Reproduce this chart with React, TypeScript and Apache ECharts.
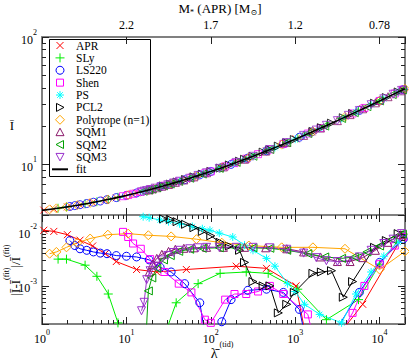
import React, { useEffect, useRef } from "react";
import * as echarts from "echarts";

const FONT = "'Liberation Serif', 'DejaVu Serif', serif";

// ---------------- data ----------------
const aprLambda = [1.05, 1.38, 2.0, 2.82, 3.98, 5.62, 7.59, 13.2, 22.9, 51.3, 200, 457, 1023, 1585, 6310, 18620];
const aprI = [4.37, 4.47, 4.63, 4.81, 5.02, 5.24, 5.46, 5.96, 6.55, 7.64, 10.33, 12.75, 15.86, 17.99, 27.3, 38.3];
const aprErr = [0.0105, 0.01, 0.0087, 0.0069, 0.0054, 0.0039, 0.0028, 0.002, 0.0018, 0.002, 0.0023, 0.0021, 0.001, 0.00003, 0.00046, 0.0079];

const slyLambda = [1.55, 1.95, 3.24, 4.47, 6.1, 7.94, 15.8, 38.9, 70.8, 129, 263, 479, 1072, 2344, 5623, 10000, 19050];
const slyI = [4.52, 4.63, 4.89, 5.09, 5.3, 5.51, 6.14, 7.24, 8.18, 9.34, 11.08, 12.92, 16.09, 20.24, 26.28, 31.46, 38.63];
const slyErr = [0.0031, 0.0031, 0.0024, 0.0015, 0.00071, 0.00021, 0.00001, 0.00049, 0.0011, 0.0017, 0.0018, 0.0017, 0.00087, 0.00024, 0.00056, 0.0025, 0.0089];

const ls220Lambda = [2.14, 2.45, 2.82, 3.39, 4.07, 4.9, 5.89, 7.59, 10, 13.2, 18.6, 25.1, 33.9, 49, 74.1, 100, 135, 174, 275, 457, 724, 1122, 1585, 5754, 10000, 19050];
const ls220I = [4.67, 4.74, 4.82, 4.92, 5.04, 5.15, 5.28, 5.48, 5.7, 5.96, 6.31, 6.66, 7.04, 7.57, 8.26, 8.79, 9.44, 9.99, 11.2, 12.77, 14.46, 16.32, 18.01, 26.49, 31.46, 38.63];
const ls220Err = [0.0068, 0.0055, 0.0048, 0.0045, 0.0042, 0.004, 0.0039, 0.0036, 0.0035, 0.0034, 0.003, 0.0022, 0.0018, 0.0011, 0.00049, 0.00003, 0.00022, 0.00056, 0.00083, 0.00087, 0.00076, 0.00037, 0.00003, 0.00076, 0.0027, 0.0072];

const shenLambda = [9.12, 10.5, 12.0, 14.8, 19.1, 28.2, 41.7, 58.9, 85.1, 100, 148, 191, 263, 363, 501, 724, 1413, 1995, 4786, 6607, 10000, 15140, 19050];
const shenI = [5.62, 5.74, 5.87, 6.07, 6.33, 6.8, 7.34, 7.85, 8.5, 8.79, 9.64, 10.22, 11.08, 12.02, 13.07, 14.46, 17.45, 19.27, 25.09, 27.73, 31.46, 36.01, 38.63];
const shenErr = [0.0098, 0.0079, 0.006, 0.0048, 0.0031, 0.0018, 0.0011, 0.00076, 0.00024, 0.00021, 0.00056, 0.00071, 0.00071, 0.00079, 0.001, 0.00071, 0.0003, 0.00003, 0.00032, 0.001, 0.0025, 0.0055, 0.0079];

const psLambda = [15.8, 18.6, 25.1, 31.6, 42.7, 60.3, 79.4, 97.7, 126, 182, 251, 316, 457, 575, 813, 1000, 1288, 1950, 3548, 5248, 7943, 11220, 16600];
const psI = [6.14, 6.3, 6.66, 6.94, 7.37, 7.89, 8.38, 8.75, 9.29, 10.1, 10.96, 11.57, 12.77, 13.54, 14.92, 15.75, 16.99, 19.13, 22.89, 25.77, 29.39, 32.72, 37.02];
const psErr = [0.0186, 0.0178, 0.0162, 0.0151, 0.0138, 0.0123, 0.0112, 0.0105, 0.0093, 0.0079, 0.0056, 0.0045, 0.0032, 0.0023, 0.0011, 0.00079, 0.00046, 0.0003, 0.00021, 0.00071, 0.0018, 0.0035, 0.0063];

const pcl2Lambda = [27.5, 33.1, 39.8, 50.1, 63.1, 79.4, 100, 129, 166, 219, 251, 316, 417, 501, 631, 794, 977, 1622, 2042, 2692, 3715, 4786, 8710, 12020, 16600];
const pcl2I = [6.77, 7.0, 7.27, 7.6, 7.97, 8.38, 8.79, 9.34, 9.89, 10.59, 10.96, 11.57, 12.47, 13.07, 13.91, 14.83, 15.66, 18.13, 19.41, 21.07, 23.23, 25.09, 30.22, 33.48, 37.02];
const pcl2Err = [0.017, 0.0166, 0.0151, 0.0135, 0.0117, 0.01, 0.0083, 0.0063, 0.0054, 0.0045, 0.0027, 0.0012, 0.001, 0.001, 0.00032, 0.00046, 0.00076, 0.0017, 0.0018, 0.0019, 0.00062, 0.0012, 0.0051, 0.0068, 0.0091];

const polyLambda = [1.23, 1.48, 1.95, 2.63, 3.72, 6.03, 10.5, 18.2, 33.9, 67.6, 135, 282, 692, 1622, 3890, 10000, 19950];
const polyI = [4.43, 4.51, 4.63, 4.78, 4.98, 5.29, 5.74, 6.28, 7.04, 8.1, 9.44, 11.26, 14.28, 18.13, 23.57, 31.46, 39.2];
const polyErr = [0.0039, 0.0042, 0.0051, 0.0062, 0.0074, 0.0087, 0.0091, 0.0085, 0.0081, 0.0072, 0.0062, 0.0055, 0.0051, 0.0051, 0.0048, 0.002, 0.0043];

const sqm1Lambda = [18.6, 20.4, 22.9, 26.3, 31.6, 38, 47.9, 63.1, 89.1, 141, 251, 447, 794, 1259, 1995, 3162, 4467, 6310, 8913, 12590, 17780];
const sqm1I = [6.3, 6.42, 6.55, 6.72, 6.94, 7.21, 7.54, 7.97, 8.59, 9.54, 10.96, 12.7, 14.83, 16.88, 19.27, 22.04, 24.58, 27.3, 30.42, 33.98, 37.78];
const sqm1Err = [0.0018, 0.0025, 0.0032, 0.0038, 0.0043, 0.0047, 0.0049, 0.005, 0.0051, 0.0051, 0.0051, 0.005, 0.0048, 0.0042, 0.0034, 0.0028, 0.0028, 0.0033, 0.0045, 0.0063, 0.0087];

const sqm2Lambda = [15.8, 18.2, 20, 22.9, 27.5, 33.1, 41.7, 56.2, 79.4, 126, 200, 316, 501, 794, 1413, 2239, 3548, 5012, 7079, 10000, 14130, 18620];
const sqm2I = [6.14, 6.28, 6.39, 6.55, 6.77, 7.0, 7.34, 7.77, 8.38, 9.29, 10.35, 11.57, 13.07, 14.83, 17.45, 19.96, 22.89, 25.43, 28.35, 31.46, 35.25, 38.35];
const sqm2Err = [0.00001, 0.00081, 0.0014, 0.0021, 0.003, 0.0036, 0.0043, 0.0047, 0.0049, 0.005, 0.005, 0.005, 0.0049, 0.0045, 0.0039, 0.0034, 0.0032, 0.0034, 0.0042, 0.0054, 0.0071, 0.0089];

const sqm3Lambda = [15.1, 16.2, 17.4, 19.1, 21.9, 25.7, 30.9, 36.3, 42.7, 56.2, 70.8, 89.1, 126, 200, 316, 501, 794, 1259, 1778, 2344, 3162, 4266, 5754, 7943, 11220, 14450, 18200];
const sqm3I = [6.09, 6.16, 6.23, 6.33, 6.5, 6.69, 6.91, 7.14, 7.37, 7.77, 8.18, 8.59, 9.29, 10.35, 11.57, 13.07, 14.83, 16.88, 18.58, 20.24, 22.04, 24.24, 26.49, 29.39, 32.72, 35.5, 38.06];
const sqm3Err = [0.00035, 0.0005, 0.0013, 0.0019, 0.0023, 0.003, 0.0036, 0.0041, 0.0045, 0.0048, 0.005, 0.0051, 0.0051, 0.0051, 0.0051, 0.005, 0.0047, 0.004, 0.0033, 0.0029, 0.0028, 0.0029, 0.0034, 0.0045, 0.006, 0.0072, 0.0091];

const fitLambda = [1, 1.78, 3.16, 5.62, 10, 17.8, 31.6, 56.2, 100, 178, 316, 562, 1000, 1778, 3162, 5623, 10000, 17780, 20000];
const fitI = [4.35, 4.58, 4.875, 5.24, 5.695, 6.25, 6.94, 7.77, 8.79, 10.04, 11.57, 13.45, 15.75, 18.58, 22.04, 26.28, 31.46, 37.78, 39.2];

// top axis: M* (APR) at lambda decades
const topTickLambda = [10, 100, 1000, 10000];
const topTickLabels = ["2.2", "1.7", "1.2", "0.78"];

// ---------------- styling ----------------
const FRAME = "#808080";
const TICK = "#222";
const MAJOR = 7;
const MINOR = 4;

const SYM_X = "path://M0,0L10,10M0,10L10,0";
const SYM_PLUS = "path://M5,0L5,10M0,5L10,5";
const SYM_STAR = "path://M5,0L5,10M0,5L10,5M1.6,1.6L8.4,8.4M1.6,8.4L8.4,1.6";
const SYM_RIGHT = "path://M0,0L10,5L0,10Z";
const SYM_LEFT = "path://M10,0L0,5L10,10Z";
const SYM_DOWN = "path://M0,0L10,0L5,10Z";
const SYM_UP = "path://M5,0L10,10L0,10Z";

type Eos = { name: string; color: string; symbol: string; kind: string; size: number; lambda: number[]; I: number[]; err: number[] };
const eosList: Eos[] = [
  { name: "APR", color: "#ff0000", symbol: SYM_X, kind: "x", size: 7, lambda: aprLambda, I: aprI, err: aprErr },
  { name: "SLy", color: "#00ee00", symbol: SYM_PLUS, kind: "plus", size: 9, lambda: slyLambda, I: slyI, err: slyErr },
  { name: "LS220", color: "#0000ff", symbol: "circle", kind: "circle", size: 8, lambda: ls220Lambda, I: ls220I, err: ls220Err },
  { name: "Shen", color: "#ff00ff", symbol: "rect", kind: "rect", size: 7, lambda: shenLambda, I: shenI, err: shenErr },
  { name: "PS", color: "#00ffff", symbol: SYM_STAR, kind: "star", size: 8, lambda: psLambda, I: psI, err: psErr },
  { name: "PCL2", color: "#000000", symbol: SYM_RIGHT, kind: "right", size: 8, lambda: pcl2Lambda, I: pcl2I, err: pcl2Err },
  { name: "Polytrope (n=1)", color: "#ffa500", symbol: "diamond", kind: "diamond", size: 9, lambda: polyLambda, I: polyI, err: polyErr },
  { name: "SQM1", color: "#8b1a6b", symbol: SYM_UP, kind: "up", size: 8, lambda: sqm1Lambda, I: sqm1I, err: sqm1Err },
  { name: "SQM2", color: "#00a000", symbol: SYM_LEFT, kind: "left", size: 8, lambda: sqm2Lambda, I: sqm2I, err: sqm2Err },
  { name: "SQM3", color: "#9932cc", symbol: SYM_DOWN, kind: "down", size: 8, lambda: sqm3Lambda, I: sqm3I, err: sqm3Err },
];

function isPow10(v: number) {
  const l = Math.log10(v);
  return Math.abs(l - Math.round(l)) < 1e-6;
}
function pow10Label(v: number) {
  if (!isPow10(v)) return "";
  return `{b|10}{s|${Math.round(Math.log10(v))}}`;
}
const powRich = {
  b: { fontSize: 12, fontFamily: FONT, color: "#000", verticalAlign: "bottom", lineHeight: 17 },
  s: { fontSize: 8, fontFamily: FONT, color: "#000", verticalAlign: "top", lineHeight: 9 },
};

function minorValues(lo: number, hi: number) {
  const out: number[] = [];
  for (let e = Math.floor(Math.log10(lo)) - 1; e <= Math.ceil(Math.log10(hi)); e++) {
    for (let m = 2; m <= 9; m++) {
      const v = m * Math.pow(10, e);
      if (v > lo * 1.0001 && v < hi * 0.9999) out.push(v);
    }
  }
  return out;
}

function tickRenderer(xMinor: number[], yMinor: number[], xRef: number, yRef: number) {
  return (params: any, api: any) => {
    const cs = params.coordSys;
    const x0 = cs.x, y0 = cs.y, w = cs.width, h = cs.height;
    const st = { stroke: TICK, lineWidth: 1 };
    const children: any[] = [];
    for (const v of yMinor) {
      const py = Math.round(api.coord([xRef, v])[1]) + 0.5;
      children.push({ type: "line", shape: { x1: x0, y1: py, x2: x0 + MINOR, y2: py }, style: st });
      children.push({ type: "line", shape: { x1: x0 + w - MINOR, y1: py, x2: x0 + w, y2: py }, style: st });
    }
    for (const v of xMinor) {
      const px = Math.round(api.coord([v, yRef])[0]) + 0.5;
      children.push({ type: "line", shape: { x1: px, y1: y0, x2: px, y2: y0 + MINOR }, style: st });
      children.push({ type: "line", shape: { x1: px, y1: y0 + h - MINOR, x2: px, y2: y0 + h }, style: st });
    }
    return { type: "group", children };
  };
}

function legendSymbol(kind: string, cx: number, cy: number, color: string): any {
  const st = { stroke: color, fill: "none", lineWidth: 1 };
  const r = 3.5;
  switch (kind) {
    case "x":
      return { type: "group", children: [
        { type: "line", shape: { x1: cx - r, y1: cy - r, x2: cx + r, y2: cy + r }, style: st },
        { type: "line", shape: { x1: cx - r, y1: cy + r, x2: cx + r, y2: cy - r }, style: st },
      ] };
    case "plus":
      return { type: "group", children: [
        { type: "line", shape: { x1: cx - 4.5, y1: cy, x2: cx + 4.5, y2: cy }, style: st },
        { type: "line", shape: { x1: cx, y1: cy - 4.5, x2: cx, y2: cy + 4.5 }, style: st },
      ] };
    case "circle":
      return { type: "circle", shape: { cx, cy, r: 4 }, style: st };
    case "rect":
      return { type: "rect", shape: { x: cx - 3.5, y: cy - 3.5, width: 7, height: 7 }, style: st };
    case "star":
      return { type: "group", children: [
        { type: "line", shape: { x1: cx - 4, y1: cy, x2: cx + 4, y2: cy }, style: st },
        { type: "line", shape: { x1: cx, y1: cy - 4, x2: cx, y2: cy + 4 }, style: st },
        { type: "line", shape: { x1: cx - 2.8, y1: cy - 2.8, x2: cx + 2.8, y2: cy + 2.8 }, style: st },
        { type: "line", shape: { x1: cx - 2.8, y1: cy + 2.8, x2: cx + 2.8, y2: cy - 2.8 }, style: st },
      ] };
    case "right":
      return { type: "polygon", shape: { points: [[cx - 3.5, cy - 4], [cx + 4, cy], [cx - 3.5, cy + 4]] }, style: st };
    case "left":
      return { type: "polygon", shape: { points: [[cx + 3.5, cy - 4], [cx - 4, cy], [cx + 3.5, cy + 4]] }, style: st };
    case "up":
      return { type: "polygon", shape: { points: [[cx, cy - 4], [cx + 4, cy + 3.5], [cx - 4, cy + 3.5]] }, style: st };
    case "down":
      return { type: "polygon", shape: { points: [[cx - 4, cy - 3.5], [cx + 4, cy - 3.5], [cx, cy + 4]] }, style: st };
    case "diamond":
      return { type: "polygon", shape: { points: [[cx, cy - 4.5], [cx + 4.5, cy], [cx, cy + 4.5], [cx - 4.5, cy]] }, style: st };
    default:
      return { type: "line", shape: { x1: cx - 8, y1: cy, x2: cx + 8, y2: cy }, style: { stroke: color, lineWidth: 2 } };
  }
}

const G0 = { left: 42, top: 37, width: 363, height: 178 };
const G1 = { left: 42, top: 215, width: 363, height: 109 };
const X_MIN = 1, X_MAX = 20000;
const Y0_MIN = 4, Y0_MAX = 100;
const Y1_MIN = 2e-4, Y1_MAX = 2e-2;

export default function App() {
  const ref = useRef<HTMLDivElement>(null);
  useEffect(() => {
    if (!ref.current) return;
    const chart = echarts.init(ref.current, undefined, { renderer: "svg" });

    const axisLine = { show: true, onZero: false, lineStyle: { color: FRAME, width: 2 } };
    const majorTick = { show: true, inside: true, length: MAJOR, lineStyle: { color: TICK, width: 1 } };
    const noLabel = { show: false };
    const noSplit = { show: false };
    const xBase = { type: "log", logBase: 10, min: X_MIN, max: X_MAX, axisLine, axisTick: majorTick, splitLine: noSplit };

    const series: any[] = [];
    eosList.forEach((e) => {
      series.push({
        type: "scatter", name: e.name, xAxisIndex: 0, yAxisIndex: 0,
        data: e.lambda.map((l, i) => [l, e.I[i]]),
        symbol: e.symbol, symbolSize: e.size,
        itemStyle: { color: "rgba(0,0,0,0)", borderColor: e.color, borderWidth: 1 },
        silent: true, z: 3,
      });
      series.push({
        type: "line", name: e.name, xAxisIndex: 2, yAxisIndex: 2,
        data: e.lambda.map((l, i) => [l, e.err[i]]),
        symbol: e.symbol, symbolSize: e.size, showSymbol: true,
        lineStyle: { color: e.color, width: 1 },
        itemStyle: { color: "rgba(0,0,0,0)", borderColor: e.color, borderWidth: 1 },
        clip: true, silent: true, z: 3,
      });
    });
    series.push({
      type: "line", name: "fit", xAxisIndex: 0, yAxisIndex: 0,
      data: fitLambda.map((l, i) => [l, fitI[i]]),
      symbol: "none", smooth: true, lineStyle: { color: "#000", width: 1.6 }, silent: true, z: 6,
    });
    series.push({
      type: "custom", xAxisIndex: 0, yAxisIndex: 0, data: [[1, 10]], silent: true, z: 8,
      renderItem: tickRenderer([], minorValues(Y0_MIN, Y0_MAX), 1, 10),
    });
    series.push({
      type: "custom", xAxisIndex: 2, yAxisIndex: 2, data: [[1, 1e-3]], silent: true, z: 8,
      renderItem: tickRenderer(minorValues(X_MIN, X_MAX), minorValues(Y1_MIN, Y1_MAX), 1, 1e-3),
    });

    const legendTop = 45.5, legendStep = 12.38;
    const legendChildren: any[] = [
      { type: "rect", shape: { x: 49.5, y: 39.5, width: 101, height: 137 }, style: { fill: "#fff", stroke: "#000", lineWidth: 1 } },
    ];
    const legendText = (text: string, cy: number) => ({
      type: "text", x: 76, y: cy,
      style: { text, fontSize: 11.5, lineHeight: 11, fontFamily: FONT, fill: "#000", verticalAlign: "middle" },
    });
    eosList.forEach((e, i) => {
      const cy = legendTop + i * legendStep;
      legendChildren.push(legendSymbol(e.kind, 60, cy, e.color));
      legendChildren.push(legendText(e.name, cy));
    });
    {
      const cy = legendTop + eosList.length * legendStep;
      legendChildren.push({ type: "line", shape: { x1: 52, y1: cy, x2: 68, y2: cy }, style: { stroke: "#000", lineWidth: 2 } });
      legendChildren.push(legendText("fit", cy));
    }

    const option: any = {
      animation: false,
      backgroundColor: "#fff",
      grid: [
        { ...G0, containLabel: false },
        { ...G1, containLabel: false },
      ],
      xAxis: [
        { ...xBase, gridIndex: 0, position: "bottom", axisLabel: noLabel },
        {
          ...xBase, gridIndex: 0, position: "top",
          axisLabel: {
            show: true, margin: 6, fontSize: 12, fontFamily: FONT, color: "#000",
            formatter: (v: number) => {
              const k = topTickLambda.findIndex((t) => Math.abs(Math.log10(t) - Math.log10(v)) < 1e-6);
              return k >= 0 ? topTickLabels[k] : "";
            },
          },
        },
        {
          ...xBase, gridIndex: 1, position: "bottom",
          axisLabel: { show: true, margin: 4, formatter: pow10Label, rich: powRich },
        },
        { ...xBase, gridIndex: 1, position: "top", axisLabel: noLabel },
      ],
      yAxis: [
        {
          type: "log", logBase: 10, gridIndex: 0, position: "left", min: Y0_MIN, max: Y0_MAX,
          axisLine, axisTick: majorTick, splitLine: noSplit,
          axisLabel: { show: true, margin: 5, formatter: pow10Label, rich: powRich },
        },
        { type: "log", logBase: 10, gridIndex: 0, position: "right", min: Y0_MIN, max: Y0_MAX, axisLine, axisTick: majorTick, splitLine: noSplit, axisLabel: noLabel },
        {
          type: "log", logBase: 10, gridIndex: 1, position: "left", min: Y1_MIN, max: Y1_MAX,
          axisLine, axisTick: majorTick, splitLine: noSplit,
          axisLabel: { show: true, margin: 5, formatter: pow10Label, rich: powRich },
        },
        { type: "log", logBase: 10, gridIndex: 1, position: "right", min: Y1_MIN, max: Y1_MAX, axisLine, axisTick: majorTick, splitLine: noSplit, axisLabel: noLabel },
      ],
      series,
      graphic: [
        {
          type: "text", x: 220, y: 9, z: 100,
          style: {
            text: "{a|M}{s|*}{a| (APR) [M}{s|⊙}{a|]}",
            align: "center", verticalAlign: "middle",
            rich: {
              a: { fontSize: 13, fontFamily: FONT, fill: "#000", verticalAlign: "top", lineHeight: 14 },
              s: { fontSize: 8, fontFamily: FONT, fill: "#000", verticalAlign: "bottom", lineHeight: 9, padding: [7, 0, 0, 0] },
            },
          },
        },
        {
          type: "text", x: 12, y: 125, z: 100,
          style: { text: "Ī", fontSize: 13, fontFamily: FONT, fill: "#000", align: "center", verticalAlign: "middle" },
        },
        {
          type: "text", x: 12, y: 270, rotation: Math.PI / 2, z: 100,
          style: {
            text: "{a||Ī-Ī}{s|(fit)}{a||/Ī}{s|(fit)}",
            align: "center", verticalAlign: "middle",
            rich: {
              a: { fontSize: 13, fontFamily: FONT, fill: "#000", verticalAlign: "bottom", lineHeight: 19 },
              s: { fontSize: 8, fontFamily: FONT, fill: "#000", verticalAlign: "top", lineHeight: 9 },
            },
          },
        },
        {
          type: "text", x: 222, y: 350, z: 100,
          style: {
            text: "{a|λ̄}{s| (tid)}",
            align: "center", verticalAlign: "middle",
            rich: {
              a: { fontSize: 14, fontFamily: FONT, fill: "#000", verticalAlign: "bottom", lineHeight: 20 },
              s: { fontSize: 8, fontFamily: FONT, fill: "#000", verticalAlign: "top", lineHeight: 9 },
            },
          },
        },
        { type: "group", z: 100, children: legendChildren },
      ],
    };
    chart.setOption(option);
    return () => chart.dispose();
  }, []);
  return (
    <div
      ref={ref}
      style={{ position: "fixed", left: 0, top: 0, width: 409, height: 361, background: "#fff" }}
    />
  );
}
